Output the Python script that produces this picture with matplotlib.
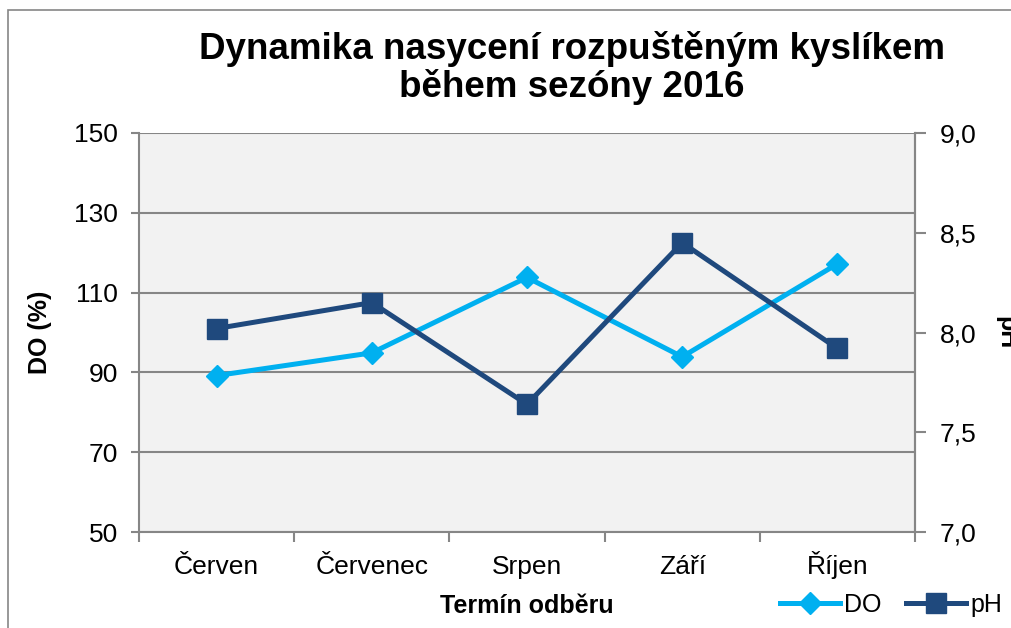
import matplotlib.pyplot as plt
from matplotlib.lines import Line2D
from matplotlib.patches import Rectangle

plt.rcParams["font.family"] = ["Liberation Sans", "DejaVu Sans"]

months = ["Červen", "Červenec", "Srpen", "Září", "Říjen"]
do_values = [89.2, 94.9, 113.8, 93.9, 117.2]
ph_values = [8.02, 8.15, 7.64, 8.45, 7.92]

do_ticks = [50, 70, 90, 110, 130, 150]
ph_ticks = [7.0, 7.5, 8.0, 8.5, 9.0]
ph_ticklabels = ["7,0", "7,5", "8,0", "8,5", "9,0"]

do_color = "#00B0F0"
ph_color = "#1F497D"
grid_color = "#868686"

fig = plt.figure(figsize=(10.12, 6.28), dpi=100)
fig.patches.append(Rectangle((8 / 1012, -0.1), 1.2, 1 - 10 / 628 + 0.1,
                             transform=fig.transFigure, fill=False,
                             edgecolor=grid_color, linewidth=1.2))

ax = fig.add_axes([139 / 1012, 1 - 532 / 628, 776 / 1012, 399 / 628])
ax.set_facecolor("#F2F2F2")
x = range(len(months))

ax.plot(x, do_values, color=do_color, linewidth=3.6, marker="D",
        markersize=11, zorder=3)
ax.set_ylim(50, 150)
ax.set_yticks(do_ticks)
ax.set_xlim(-0.5, len(months) - 0.5)
ax.set_xticks(list(x))
ax.set_xticklabels(months, fontsize=19)
for lbl in ax.get_xticklabels():
    lbl.set_va("baseline")
ax.set_xticks([i + 0.5 for i in range(-1, len(months))], minor=True)
ax.tick_params(axis="x", which="major", length=0, pad=30)
ax.tick_params(axis="x", which="minor", length=7, width=1.5,
               color=grid_color, direction="out")
ax.tick_params(axis="y", length=6, width=1.5, color=grid_color,
               labelsize=19, pad=9)
ax.yaxis.grid(True, color=grid_color, linewidth=1.5)
ax.set_axisbelow(True)
for s in ax.spines.values():
    s.set_color(grid_color)
    s.set_linewidth(1.5)
ax.spines["top"].set_visible(False)

ax.set_ylabel("DO (%)", fontsize=18, fontweight="bold")
ax.yaxis.set_label_coords(-0.112, 0.5)
ax.set_xlabel("Termín odběru", fontsize=18, fontweight="bold")
ax.xaxis.set_label_coords(0.5, -0.155)

ax2 = ax.twinx()
ax2.plot(x, ph_values, color=ph_color, linewidth=3.6, marker="s",
         markersize=14, zorder=3)
ax2.set_ylim(7.0, 9.0)
ax2.set_yticks(ph_ticks)
ax2.set_yticklabels(ph_ticklabels)
ax2.tick_params(axis="y", length=8, width=1.5, color=grid_color,
                labelsize=19, pad=10)
for s in ax2.spines.values():
    s.set_visible(False)
ax2.spines["right"].set_visible(True)
ax2.spines["right"].set_color(grid_color)
ax2.spines["right"].set_linewidth(1.5)
ax2.set_ylabel("pH", fontsize=18, fontweight="bold", rotation=270,
               va="center")
ax2.yaxis.set_label_coords(1.118, 0.5)

fig.text(572 / 1012, 1 - 68 / 628,
         "Dynamika nasycení rozpuštěným kyslíkem\nběhem sezóny 2016",
         ha="center", va="center", fontsize=26.5, fontweight="bold",
         linespacing=1.1)

handles = [
    Line2D([], [], color=do_color, linewidth=3.6, marker="D", markersize=11),
    Line2D([], [], color=ph_color, linewidth=3.6, marker="s", markersize=14),
]
fig.legend(handles, ["DO", "pH"], loc="center", ncol=2, frameon=False,
           fontsize=18, handlelength=2.4, handletextpad=0.15,
           columnspacing=1.0, bbox_to_anchor=(891 / 1012, 1 - 605 / 628))

fig.savefig("out.png", dpi=100)
